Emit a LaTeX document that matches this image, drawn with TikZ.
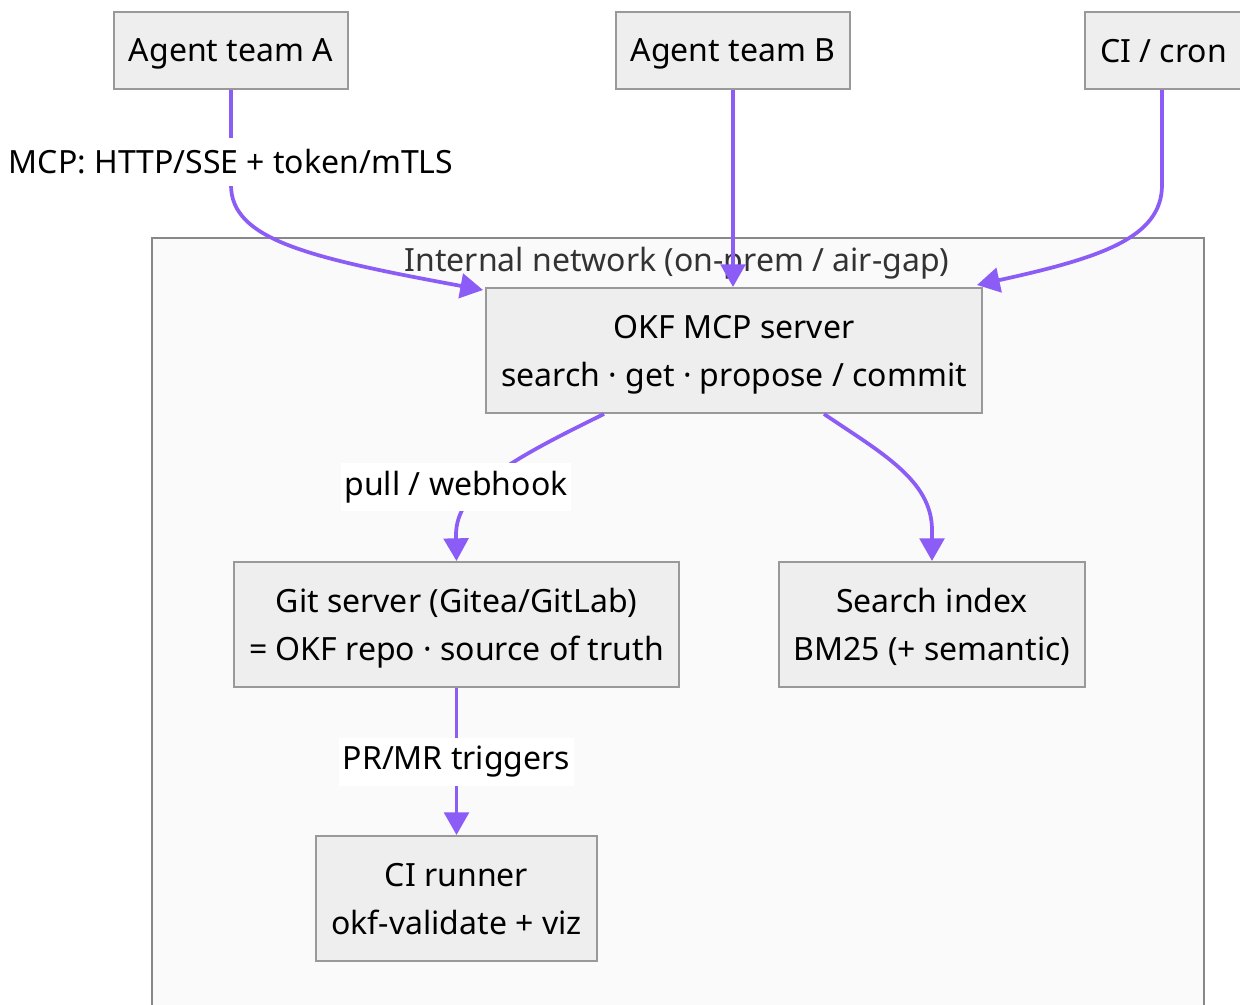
\documentclass[tikz,border=0pt]{standalone}
\usepackage{fontspec}
\setmainfont{Noto Sans}
\usetikzlibrary{arrows.meta,calc}
\definecolor{edgec}{HTML}{8B5CF6}
\definecolor{boxfill}{HTML}{EEEEEE}
\definecolor{boxdraw}{HTML}{999999}
\definecolor{clfill}{HTML}{FAFAFA}
\definecolor{cldraw}{HTML}{888888}
\tikzset{
  box/.style={draw=boxdraw, fill=boxfill, line width=1.5pt, inner sep=0pt, align=center,
    text depth=0pt, font=\fontsize{24}{36}\selectfont},
  arr/.style={draw=edgec, line width=2.8pt, -{Triangle[length=17pt,width=18.5pt]}},
  lbl/.style={fill=white, inner xsep=2.5pt, inner ysep=0pt, minimum height=36pt, font=\fontsize{24}{36}\selectfont, text=black},
}
\begin{document}
\begin{tikzpicture}[x=0.75pt,y=-0.75pt]
\useasboundingbox (0,0) rectangle (1240,1005);
% cluster
\node[draw=cldraw, fill=clfill, line width=1.5pt, minimum width=789pt, minimum height=582pt, inner sep=0pt, anchor=north west] (cl) at (151,237) {};
\node[font=\fontsize{24}{36}\selectfont, text=black!80, inner sep=0pt] (cllbl) at (677,263) {Internal network (on-prem / air-gap)};
% nodes
\node[box, minimum width=175.5pt, minimum height=57.75pt] (A) at (231,50.5) {Agent team A};
\node[box, minimum width=175.5pt, minimum height=57.75pt] (B) at (733,50.5) {Agent team B};
\node[box, minimum width=117.75pt, minimum height=57.75pt] (ci) at (1163.5,50.5) {CI / cron};
\node[box, minimum width=372pt, minimum height=93.75pt] (okf) at (734,350.5) {OKF MCP server\\search · get · propose / commit};
\node[box, minimum width=333.75pt, minimum height=93.75pt] (git) at (456.5,624.5) {Git server (Gitea/GitLab)\\= OKF repo · source of truth};
\node[box, minimum width=229.5pt, minimum height=93.75pt] (srch) at (932,624.5) {Search index\\BM25 (+ semantic)};
\node[box, minimum width=210.75pt, minimum height=93.75pt] (run) at (456.5,898.5) {CI runner\\okf-validate + viz};
% edges
\draw[arr] (A.south) -- (231,185) .. controls (231,240) and (310,258) .. ($(okf.north west)+(-2,3)$);
\node[lbl] (l1) at (231,162) {MCP: HTTP/SSE + token/mTLS};
\draw[arr] (B.south) -- (B.south |- okf.north);
\draw[arr] ([xshift=-1.1pt]ci.south) -- (1162,185) .. controls (1162,238) and (1100,258) .. ($(okf.north east)+(-6,-2)$);
\draw[arr] ($(okf.south west)+(119,0)$) .. controls (510,460) and (456,490) .. (456,535) -- (git.north);
\node[lbl] (l2) at (456,487) {pull / webhook};
\draw[arr] ($(okf.south west)+(339,0)$) .. controls (880,452) and (932,480) .. (932,530) -- (srch.north);
\draw[arr] (git.south) -- node[lbl] (l3) {PR/MR triggers} (run.north);
\end{tikzpicture}
\end{document}
